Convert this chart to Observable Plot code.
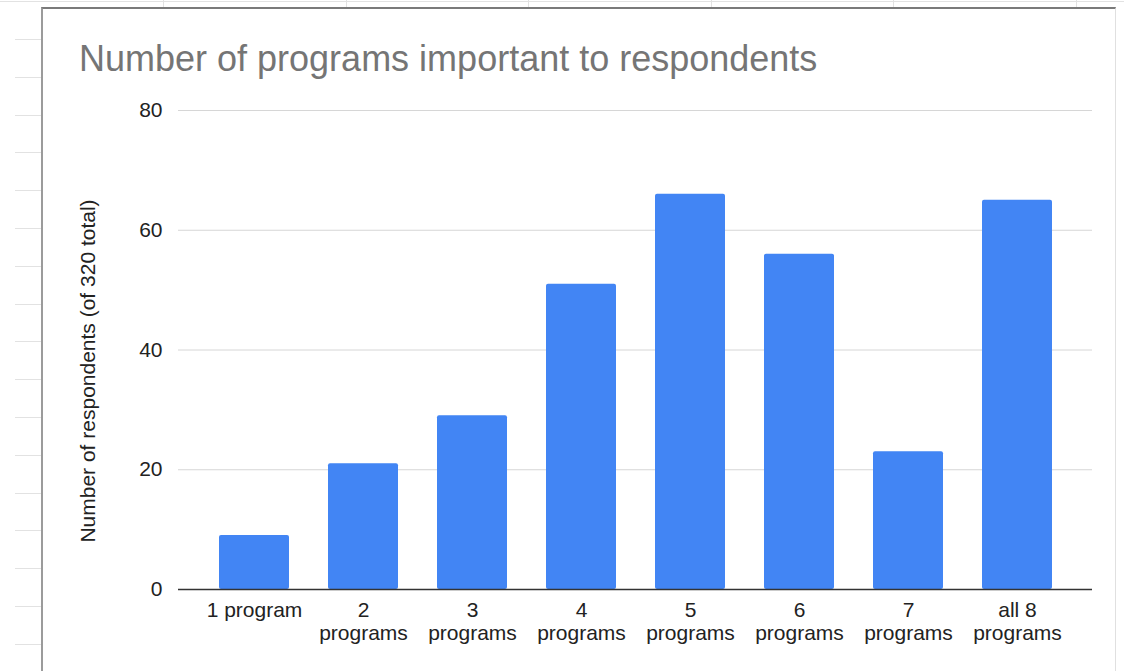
<!DOCTYPE html>
<html>
<head>
<meta charset="utf-8">
<script src="https://cdn.jsdelivr.net/npm/d3@7"></script>
<script src="https://cdn.jsdelivr.net/npm/@observablehq/plot@0.6"></script>
<style>
  html, body { margin: 0; padding: 0; background: #fff; }
  body { width: 1124px; height: 671px; position: relative; overflow: hidden; font-family: "Liberation Sans", Arial, sans-serif; }
  .hl { position: absolute; height: 1px; background: #e2e2e2; }
  .vl { position: absolute; width: 1px; background: #e2e2e2; }
  #box { position: absolute; left: 41px; top: 7px; width: 1072px; height: 700px; background: #fff;
         border-left: 2px solid #9b9b9b; border-top: 2px solid #7a7a7a; border-right: 1px solid #e0e0e0; }
  #title { position: absolute; left: 79px; top: 41px; font-size: 36px; line-height: 36px; color: #757575; white-space: nowrap; }
  #chart { position: absolute; left: 0; top: 0; }
</style>
</head>
<body>
<div id="bg"></div>
<div id="box"></div>
<div id="title"></div>
<div id="chart"></div>
<script>
const titleText = "Number of programs important to respondents";
const yAxisTitle = "Number of respondents (of 320 total)";
const categories = ["1 program", "2 programs", "3 programs", "4 programs", "5 programs", "6 programs", "7 programs", "all 8 programs"];
const tickLabels = ["1 program", "2\nprograms", "3\nprograms", "4\nprograms", "5\nprograms", "6\nprograms", "7\nprograms", "all 8\nprograms"];
const respondents = [9, 21, 29, 51, 66, 56, 23, 65];
const yTicks = [0, 20, 40, 60, 80];

// spreadsheet background (decoration)
const bgEl = document.getElementById("bg");
for (let i = 0; i < 17; i++) {
  const d = document.createElement("div");
  d.className = "hl";
  d.style.left = "15px"; d.style.width = "27px";
  d.style.top = (39 + i * 37.8) + "px";
  bgEl.appendChild(d);
}
const topLine = document.createElement("div");
topLine.className = "hl"; topLine.style.left = "0px"; topLine.style.width = "1124px"; topLine.style.top = "1px";
bgEl.appendChild(topLine);
[163, 346, 528, 711, 893, 1076].forEach(x => {
  const d = document.createElement("div");
  d.className = "vl"; d.style.left = x + "px"; d.style.top = "0px"; d.style.height = "7px";
  bgEl.appendChild(d);
});

document.getElementById("title").textContent = titleText;

const data = categories.map((c, i) => ({category: c, value: respondents[i]}));
const labelMap = new Map(categories.map((c, i) => [c, tickLabels[i]]));

const chart = Plot.plot({
  width: 1124,
  height: 671,
  marginLeft: 178,
  marginRight: 32,
  marginTop: 110,
  marginBottom: 82,
  style: {background: "transparent", fontFamily: "'Liberation Sans', Arial, sans-serif", fontSize: "21px", color: "#222"},
  x: {domain: categories, paddingInner: 0.36, paddingOuter: 0.18, insetLeft: 20, insetRight: 20, label: null},
  y: {domain: [0, 80], label: null},
  marks: [
    Plot.gridY(yTicks, {stroke: "#d6d6d6", strokeOpacity: 1, strokeWidth: 1}),
    Plot.barY(data, {x: "category", y: "value", fill: "#4285f4", rx: 2}),
    Plot.ruleY([0], {stroke: "#333", strokeWidth: 1.5}),
    Plot.axisY(yTicks, {tickSize: 0, tickPadding: 16, fontSize: 21, fill: "#222", label: null}),
    Plot.axisX({tickSize: 0, tickPadding: 11, fontSize: 21, fill: "#222", lineHeight: 1.1, tickFormat: d => labelMap.get(d), label: null}),
    Plot.text([yAxisTitle], {frameAnchor: "left", textAnchor: "middle", rotate: -90, dx: -90, dy: 21, fontSize: 21, fill: "#222", text: d => d})
  ]
});
document.getElementById("chart").appendChild(chart);
</script>
</body>
</html>
